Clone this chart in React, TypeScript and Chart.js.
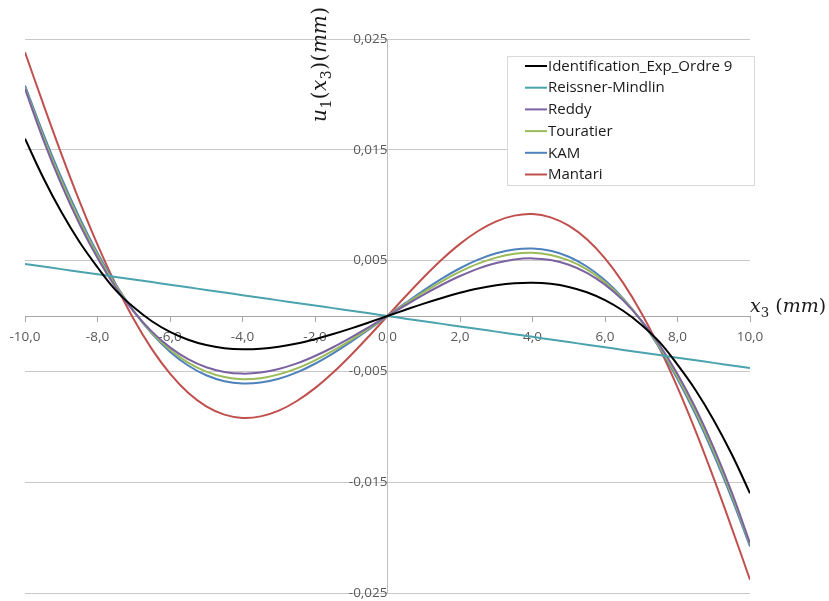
import React, { useEffect, useRef } from 'react';
import { Chart, registerables } from 'chart.js';

Chart.register(...registerables);

// ---- Data ----
const xValues = [-10, -9.5, -9, -8.5, -8, -7.5, -7, -6.5, -6, -5.5, -5, -4.5, -4, -3.5, -3, -2.5, -2, -1.5, -1, -0.5, 0,
  0.5, 1, 1.5, 2, 2.5, 3, 3.5, 4, 4.5, 5, 5.5, 6, 6.5, 7, 7.5, 8, 8.5, 9, 9.5, 10];

const identification = [0.0160, 0.0125, 0.0094, 0.0067, 0.0044, 0.00234, 0.00078, -0.00047, -0.00143, -0.00214, -0.00262,
  -0.00290, -0.00300, -0.00295, -0.00277, -0.00248, -0.00209, -0.00163, -0.00112, -0.00057, 0,
  0.00057, 0.00112, 0.00163, 0.00209, 0.00248, 0.00277, 0.00295, 0.00300, 0.00290, 0.00262, 0.00214, 0.00143, 0.00047,
  -0.00078, -0.00234, -0.0044, -0.0067, -0.0094, -0.0125, -0.0160];

const reissnerMindlin = [0.00470, 0.00447, 0.00423, 0.00400, 0.00376, 0.00353, 0.00329, 0.00306, 0.00282, 0.00259, 0.00235,
  0.00212, 0.00188, 0.00165, 0.00141, 0.00118, 0.00094, 0.00071, 0.00047, 0.00024, 0,
  -0.00024, -0.00047, -0.00071, -0.00094, -0.00118, -0.00141, -0.00165, -0.00188, -0.00212, -0.00235, -0.00259, -0.00282,
  -0.00306, -0.00329, -0.00353, -0.00376, -0.00400, -0.00423, -0.00447, -0.00470];

const reddy = [0.02050, 0.01595, 0.01190, 0.00833, 0.00524, 0.00260, 0.00039, -0.00141, -0.00283, -0.00390, -0.00463,
  -0.00505, -0.00520, -0.00510, -0.00478, -0.00428, -0.00361, -0.00282, -0.00193, -0.00098, 0,
  0.00098, 0.00193, 0.00282, 0.00361, 0.00428, 0.00478, 0.00510, 0.00520, 0.00505, 0.00463, 0.00390, 0.00283, 0.00141,
  -0.00039, -0.00260, -0.00524, -0.00833, -0.01190, -0.01595, -0.02050];

const touratier = [0.02060, 0.01620, 0.01221, 0.00863, 0.00548, 0.00274, 0.00042, -0.00151, -0.00304, -0.00421, -0.00502,
  -0.00551, -0.00570, -0.00561, -0.00527, -0.00473, -0.00400, -0.00313, -0.00215, -0.00109, 0,
  0.00109, 0.00215, 0.00313, 0.00400, 0.00473, 0.00527, 0.00561, 0.00570, 0.00551, 0.00502, 0.00421, 0.00304, 0.00151,
  -0.00042, -0.00274, -0.00548, -0.00863, -0.01221, -0.01620, -0.02060];

const kam = [0.02080, 0.01648, 0.01250, 0.00890, 0.00568, 0.00286, 0.00044, -0.00159, -0.00322, -0.00447, -0.00535,
  -0.00588, -0.00609, -0.00601, -0.00567, -0.00509, -0.00431, -0.00337, -0.00232, -0.00118, 0,
  0.00118, 0.00232, 0.00337, 0.00431, 0.00509, 0.00567, 0.00601, 0.00609, 0.00588, 0.00535, 0.00447, 0.00322, 0.00159,
  -0.00044, -0.00286, -0.00568, -0.00890, -0.01250, -0.01648, -0.02080];

const mantari = [0.02380, 0.01916, 0.01466, 0.01039, 0.00644, 0.00286, -0.00030, -0.00299, -0.00520, -0.00692, -0.00815,
  -0.00890, -0.00920, -0.00906, -0.00854, -0.00767, -0.00651, -0.00510, -0.00350, -0.00178, 0,
  0.00178, 0.00350, 0.00510, 0.00651, 0.00767, 0.00854, 0.00906, 0.00920, 0.00890, 0.00815, 0.00692, 0.00520, 0.00299,
  0.00030, -0.00286, -0.00644, -0.01039, -0.01466, -0.01916, -0.02380];

const seriesNames = ['Identification_Exp_Ordre 9', 'Reissner-Mindlin', 'Reddy', 'Touratier', 'KAM', 'Mantari'];
const seriesValues = [identification, reissnerMindlin, reddy, touratier, kam, mantari];
const seriesColors = ['#000000', '#4aa3ad', '#7b62a0', '#9bbb59', '#4f81bd', '#c0504d'];

const xMin = -10;
const xMax = 10;
const xStep = 2;
const yMin = -0.025;
const yMax = 0.025;
const yStep = 0.01;

// axis titles as runs: [text, italic, subscript]
const yTitleRuns: [string, boolean, boolean][] = [['u', true, false], ['1', false, true], ['(', false, false], ['x', true, false], ['3', false, true], [')', false, false], ['(', false, false], ['mm', true, false], [')', false, false]];
const xTitleRuns: [string, boolean, boolean][] = [['x', true, false], ['3', false, true], [' ', false, false], ['(', false, false], ['mm', true, false], [')', false, false]];

const MATH_FONT = '"DejaVu Serif"';
const UI_FONT = '"Open Sans"';

function drawRuns(ctx: CanvasRenderingContext2D, runs: [string, boolean, boolean][], size: number, gap: number) {
  let cx = 0;
  for (const [t, it, sub] of runs) {
    const s = sub ? size * 0.7 : size;
    ctx.font = `${it ? 'italic ' : ''}${s}px ${MATH_FONT}`;
    ctx.fillText(t, cx, sub ? size * 0.28 : 0);
    cx += ctx.measureText(t).width + gap;
  }
  return cx;
}

const overlayPlugin = {
  id: 'overlay',
  afterDraw(chart: any) {
    const ctx: CanvasRenderingContext2D = chart.ctx;
    const xs = chart.scales.x;
    const ys = chart.scales.y;
    ctx.save();
    // legend box
    const lx = 507, ly = 56, lw = 247, lh = 129;
    ctx.fillStyle = '#ffffff';
    ctx.fillRect(lx, ly, lw, lh);
    ctx.strokeStyle = '#d9d9d9';
    ctx.lineWidth = 1;
    ctx.strokeRect(lx + 0.5, ly + 0.5, lw, lh);
    ctx.font = `15px ${UI_FONT}`;
    ctx.textBaseline = 'middle';
    ctx.textAlign = 'left';
    chart.data.datasets.forEach((ds: any, i: number) => {
      const ry = 66 + i * 21.7;
      ctx.strokeStyle = ds.borderColor;
      ctx.lineWidth = 2;
      ctx.beginPath();
      ctx.moveTo(525, ry);
      ctx.lineTo(547, ry);
      ctx.stroke();
      ctx.fillStyle = '#1a1a1a';
      ctx.fillText(ds.label, 548, ry + 0.5);
    });
    // y axis title (rotated)
    ctx.fillStyle = '#1a1a1a';
    ctx.textBaseline = 'alphabetic';
    ctx.save();
    ctx.translate(xs.getPixelForValue(0) - 62, 122);
    ctx.rotate(-Math.PI / 2);
    drawRuns(ctx, yTitleRuns, 20, 0.5);
    ctx.restore();
    // x axis title
    ctx.save();
    ctx.translate(xs.getPixelForValue(xMax), ys.getPixelForValue(0) - 4);
    drawRuns(ctx, xTitleRuns, 19, 0);
    ctx.restore();
    ctx.restore();
  },
};

export default function App() {
  const canvasRef = useRef<HTMLCanvasElement>(null);

  useEffect(() => {
    if (!canvasRef.current) return;
    const chart = new Chart(canvasRef.current, {
      type: 'scatter',
      data: {
        datasets: seriesNames.map((name, si) => ({
          label: name,
          data: xValues.map((x, i) => ({ x, y: seriesValues[si][i] })),
          showLine: true,
          borderColor: seriesColors[si],
          backgroundColor: seriesColors[si],
          borderWidth: 2,
          pointRadius: 0,
          tension: 0.4,
          fill: false,
        })),
      },
      options: {
        responsive: false,
        animation: false,
        layout: { padding: { left: 25, right: 79, top: 39, bottom: 8 } },
        plugins: {
          legend: { display: false },
          tooltip: { enabled: false },
        },
        scales: {
          x: {
            type: 'linear',
            min: xMin,
            max: xMax,
            position: { y: 0 } as any,
            ticks: {
              stepSize: xStep,
              autoSkip: false,
              maxRotation: 0,
              color: '#595959',
              font: { family: 'Open Sans', size: 13.5 },
              padding: 8,
              callback: (v: any) => Number(v).toFixed(1).replace('.', ','),
            },
            grid: { drawOnChartArea: false, drawTicks: true, tickLength: 5, color: '#a6a6a6' },
            border: { color: '#a6a6a6' },
            afterFit: (s: any) => { s.paddingTop = 0; s.paddingBottom = 0; },
          },
          y: {
            type: 'linear',
            min: yMin,
            max: yMax,
            position: { x: 0 } as any,
            ticks: {
              stepSize: yStep,
              autoSkip: false,
              color: '#595959',
              font: { family: 'Open Sans', size: 13.5 },
              padding: 14,
              callback: (v: any) => Number(v).toFixed(3).replace('.', ','),
            },
            grid: { color: '#c8c8c8', drawTicks: false },
            border: { color: '#bfbfbf' },
            afterFit: (s: any) => { s.paddingTop = 0; s.paddingBottom = 0; },
          },
        },
      },
      plugins: [overlayPlugin],
    });
    return () => chart.destroy();
  }, []);

  return (
    <div style={{ position: 'absolute', left: 0, top: 0, width: 829, height: 601, background: '#fff' }}>
      <canvas ref={canvasRef} width={829} height={601} style={{ display: 'block' }} />
    </div>
  );
}
